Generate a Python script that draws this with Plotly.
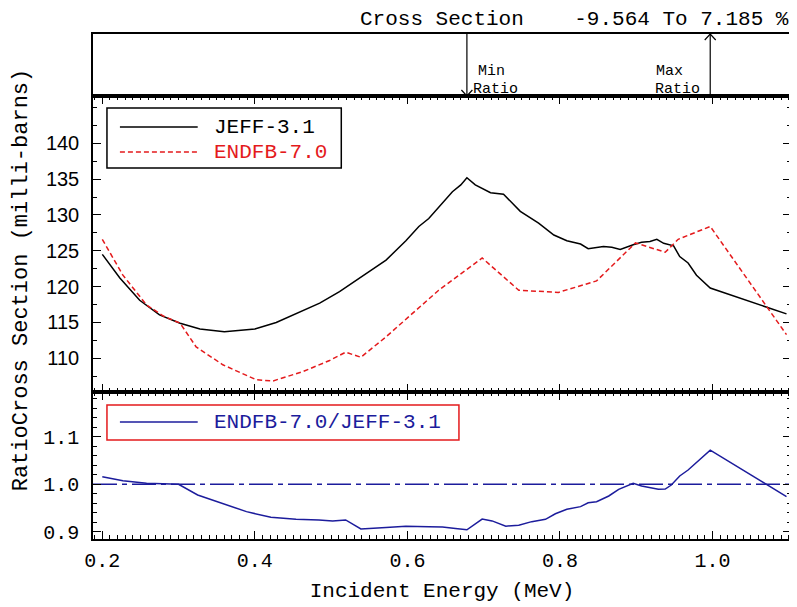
import plotly.graph_objects as go

# ---------------- data ----------------
jeff_x = [0.200, 0.223, 0.249, 0.275, 0.302, 0.328, 0.360, 0.400, 0.428, 0.467,
          0.485, 0.511, 0.550, 0.572, 0.598, 0.615, 0.628, 0.641, 0.659, 0.670,
          0.678, 0.689, 0.709, 0.726, 0.748, 0.772, 0.792, 0.809, 0.827, 0.837,
          0.857, 0.868, 0.879, 0.896, 0.907, 0.918, 0.927, 0.936, 0.949, 0.957,
          0.968, 0.979, 0.997, 1.097]
jeff_y = [124.5, 121.2, 118.1, 116.05, 114.9, 114.1, 113.7, 114.1, 115.0, 116.85,
          117.7, 119.3, 122.1, 123.7, 126.4, 128.4, 129.5, 131.1, 133.25, 134.2,
          135.2, 134.2, 133.1, 132.9, 130.5, 128.85, 127.2, 126.4, 125.95, 125.3,
          125.6, 125.5, 125.2, 125.85, 126.2, 126.3, 126.6, 126.05, 125.7, 124.2,
          123.3, 121.6, 119.8, 116.2]

endf_x = [0.200, 0.227, 0.258, 0.280, 0.302, 0.323, 0.358, 0.402, 0.424, 0.463,
          0.498, 0.519, 0.539, 0.572, 0.641, 0.698, 0.746, 0.798, 0.848, 0.899,
          0.938, 0.955, 0.997, 1.097]
endf_y = [126.6, 121.6, 117.45, 115.9, 114.9, 111.6, 109.1, 107.0, 106.85, 108.15,
          109.7, 110.85, 110.15, 113.0, 119.5, 124.0, 119.5, 119.2, 120.8, 126.1,
          124.8, 126.6, 128.4, 113.3]

ratio_x = [0.200, 0.227, 0.258, 0.300, 0.325, 0.358, 0.389, 0.421, 0.454, 0.484,
           0.502, 0.519, 0.539, 0.572, 0.598, 0.628, 0.646, 0.663, 0.678, 0.698,
           0.711, 0.729, 0.746, 0.763, 0.781, 0.794, 0.809, 0.827, 0.837, 0.848,
           0.864, 0.877, 0.896, 0.907, 0.918, 0.929, 0.938, 0.946, 0.957, 0.968,
           0.997, 1.097]
ratio_y = [1.016, 1.0076, 1.002, 1.000, 0.9775, 0.960, 0.9425, 0.9306, 0.9264, 0.925,
           0.923, 0.925, 0.906, 0.909, 0.912, 0.911, 0.910, 0.907, 0.90436, 0.927,
           0.923, 0.912, 0.914, 0.9215, 0.9264, 0.938, 0.9475, 0.953, 0.961, 0.9635,
           0.9754, 0.9895, 1.002, 0.9964, 0.9937, 0.9895, 0.990, 0.9985, 1.0174, 1.030,
           1.07185, 0.974]

series_names = ["JEFF-3.1", "ENDFB-7.0", "ENDFB-7.0/JEFF-3.1"]
x_ticks = [0.2, 0.4, 0.6, 0.8, 1.0]
x_ticklabels = ["0.2", "0.4", "0.6", "0.8", "1.0"]
cs_ticks = [110, 115, 120, 125, 130, 135, 140]
ratio_ticks = [0.9, 1.0, 1.1]
ratio_ticklabels = ["0.9", "1.0", "1.1"]

# ---------------- styling ----------------
RED = "#e41a1c"
BLUE = "#1c1c9c"
MONO = "Liberation Mono, Courier New, monospace"
SANS = "Liberation Sans, Arial, sans-serif"
RED_DASH = "5px,3px"

# page offset of the plotly div (body margin) is 8 px
OFF = 8
W, H = 797 - OFF, 607 - OFF
ML, MR, MT, MB = 93 - OFF, 4, 34 - OFF, 68
PL, PR, PT, PB = 93, 793, 34, 539          # plot area in page pixels
def py(p):  # page pixel row -> paper y
    return (PB - p) / (PB - PT)
def px(p):
    return (p - PL) / (PR - PL)

d_top = [py(96), 1.0]
d_mid = [py(392), py(96)]
d_bot = [0.0, py(392)]
x_range = [0.1878, 1.1029]

imin = ratio_y.index(min(ratio_y))
imax = ratio_y.index(max(ratio_y))
x_min, x_max = ratio_x[imin], ratio_x[imax]
title_text = "Cross Section    %.3f To %.3f %%" % ((min(ratio_y) - 1) * 100, (max(ratio_y) - 1) * 100)

fig = go.Figure()
fig.add_trace(go.Scatter(x=jeff_x, y=jeff_y, xaxis="x2", yaxis="y2", mode="lines",
                         line=dict(color="black", width=1.5), name=series_names[0], showlegend=False))
fig.add_trace(go.Scatter(x=endf_x, y=endf_y, xaxis="x2", yaxis="y2", mode="lines",
                         line=dict(color=RED, width=1.5, dash=RED_DASH),
                         name=series_names[1], showlegend=False))
fig.add_trace(go.Scatter(x=ratio_x, y=ratio_y, xaxis="x3", yaxis="y3", mode="lines",
                         line=dict(color=BLUE, width=1.5), name=series_names[2], showlegend=False))

# min / max ratio arrows in the top panel
dx = 5.5 / 765
hy = 6 / 62
fig.add_trace(go.Scatter(x=[x_min, x_min, None, x_min - dx, x_min, x_min + dx],
                         y=[1, 0, None, hy, 0, hy], xaxis="x", yaxis="y", mode="lines",
                         line=dict(color="black", width=1.2), showlegend=False, hoverinfo="skip"))
fig.add_trace(go.Scatter(x=[x_max, x_max, None, x_max - dx, x_max, x_max + dx],
                         y=[0, 1, None, 1 - hy, 1, 1 - hy], xaxis="x", yaxis="y", mode="lines",
                         line=dict(color="black", width=1.2), showlegend=False, hoverinfo="skip"))

def xaxis(anchor, ticks=True, labels=False):
    d = dict(range=x_range, anchor=anchor, showline=True, linecolor="black",
             linewidth=1.5, mirror=True, showgrid=False, zeroline=False,
             showticklabels=labels, fixedrange=True)
    if ticks:
        d.update(ticks="inside", ticklen=8, tickwidth=1, tickcolor="black",
                 tickmode="array", tickvals=x_ticks, ticktext=x_ticklabels,
                 mirror="allticks",
                 minor=dict(ticks="inside", tick0=0, dtick=0.01, ticklen=4,
                            tickwidth=1, tickcolor="black", showgrid=False))
    else:
        d.update(ticks="")
    return d

# legend boxes (drawn as shapes + text so the samples match the reference length)
def legend_box(x0, y0, x1, y1, color):
    return dict(type="rect", xref="paper", yref="paper", x0=px(x0), x1=px(x1), y0=py(y0), y1=py(y1),
                line=dict(color=color, width=1.5), fillcolor="white", layer="above")
def legend_line(yp, color, dash="solid"):
    return dict(type="line", xref="paper", yref="paper", x0=px(120), x1=px(198), y0=py(yp), y1=py(yp),
                line=dict(color=color, width=1.5, dash=dash), layer="above")
def legend_text(yp, text, color):
    return dict(text=text, xref="paper", yref="paper", x=px(212), y=py(yp), xanchor="left",
                yanchor="middle", showarrow=False, font=dict(family=MONO, size=21, color=color))

shapes = [
    dict(type="line", xref="x3 domain", x0=0, x1=1, yref="y3", y0=1.0, y1=1.0,
         line=dict(color=BLUE, width=1.5, dash="24px,5px,5px,5px"), layer="below"),
    legend_box(107, 108, 342, 168, "black"),
    legend_line(127, "black"),
    legend_line(152, RED, RED_DASH),
    legend_box(107, 405, 460, 440, RED),
    legend_line(422, BLUE),
]

annotations = [
    dict(text=title_text, xref="paper", yref="paper", x=1.0, y=py(19.5), xanchor="right",
         yanchor="middle", showarrow=False, font=dict(family=MONO, size=21, color="black")),
    dict(text="RatioCross Section (milli-barns)", xref="paper", yref="paper", x=px(21),
         y=py(280), textangle=-90, xanchor="center", yanchor="middle", showarrow=False,
         font=dict(family=MONO, size=22, color="black")),
    dict(text="Min", xref="x", yref="y", x=x_min, y=0.40, xanchor="left", xshift=9,
         yanchor="middle", showarrow=False, font=dict(family=MONO, size=15, color="black")),
    dict(text="Ratio", xref="x", yref="y", x=x_min, y=0.10, xanchor="left", xshift=4,
         yanchor="middle", showarrow=False, font=dict(family=MONO, size=15, color="black")),
    dict(text="Max", xref="x", yref="y", x=x_max, y=0.40, xanchor="left", xshift=-56,
         yanchor="middle", showarrow=False, font=dict(family=MONO, size=15, color="black")),
    dict(text="Ratio", xref="x", yref="y", x=x_max, y=0.10, xanchor="right", xshift=-8,
         yanchor="middle", showarrow=False, font=dict(family=MONO, size=15, color="black")),
    legend_text(127, series_names[0], "black"),
    legend_text(152, series_names[1], RED),
    legend_text(422, series_names[2], BLUE),
]

fig.update_layout(
    width=W, height=H,
    margin=dict(l=ML, r=MR, t=MT, b=MB),
    paper_bgcolor="white", plot_bgcolor="white",
    showlegend=False,
    xaxis=xaxis("y", ticks=False),
    xaxis2=dict(xaxis("y2"), matches="x"),
    xaxis3=dict(xaxis("y3", labels=True), matches="x",
                tickfont=dict(family=MONO, size=20, color="black"),
                ticklabelstandoff=2,
                title=dict(text="Incident Energy (MeV)", font=dict(family=MONO, size=21, color="black"),
                           standoff=11)),
    yaxis=dict(domain=d_top, range=[0, 1], anchor="x", showline=True, linecolor="black",
               linewidth=1.5, mirror=True, ticks="", showticklabels=False,
               showgrid=False, zeroline=False, fixedrange=True),
    yaxis2=dict(domain=d_mid, range=[105.3, 146.6], anchor="x2", showline=True, linecolor="black",
                linewidth=1.5, mirror="allticks", ticks="inside", ticklen=8, tickwidth=1,
                tickcolor="black", tickmode="array", tickvals=cs_ticks,
                minor=dict(ticks="inside", tick0=0, dtick=2.5, ticklen=4, tickwidth=1,
                           tickcolor="black", showgrid=False),
                tickfont=dict(family=SANS, size=20, color="black"), ticklabelstandoff=8,
                showgrid=False, zeroline=False, fixedrange=True),
    yaxis3=dict(domain=d_bot, range=[0.885, 1.194], anchor="x3", showline=True, linecolor="black",
                linewidth=1.5, mirror="allticks", ticks="inside", ticklen=8, tickwidth=1,
                tickcolor="black", tickmode="array", tickvals=ratio_ticks, ticktext=ratio_ticklabels,
                minor=dict(ticks="inside", tick0=0, dtick=0.02, ticklen=4, tickwidth=1,
                           tickcolor="black", showgrid=False),
                tickfont=dict(family=MONO, size=20, color="black"), ticklabelstandoff=8,
                showgrid=False, zeroline=False, fixedrange=True),
    shapes=shapes,
    annotations=annotations,
)

fig.write_html("out.html")
